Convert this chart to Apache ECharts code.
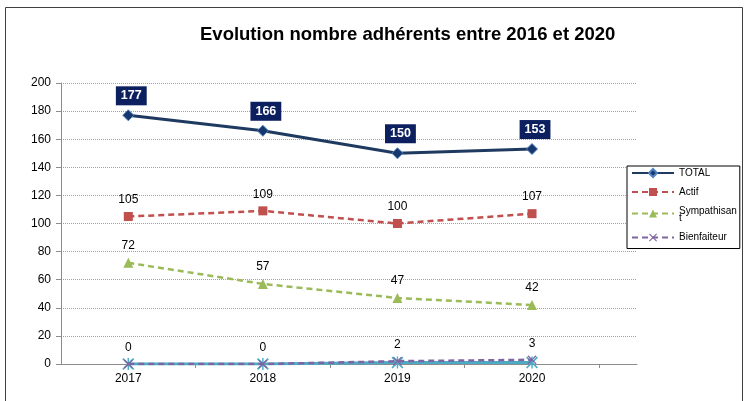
<!DOCTYPE html>
<html>
<head>
<meta charset="utf-8">
<script src="https://cdn.jsdelivr.net/npm/echarts@6/dist/echarts.min.js"></script>
<style>
  html, body { margin: 0; padding: 0; background: #fff; }
  #chart { width: 745px; height: 401px; }
</style>
</head>
<body>
<div id="chart"></div>
<script>
const years = ['2017', '2018', '2019', '2020'];
const total = [177, 166, 150, 153];
const actif = [105, 109, 100, 107];
const sympathisant = [72, 57, 47, 42];
const bienfaiteur = [0, 0, 2, 3];
const autre = [0, 0, 1, 1];
const yTicks = [0, 20, 40, 60, 80, 100, 120, 140, 160, 180, 200];

// x positions: band centres, the axis runs a bit past the last band like the original
const pts = (vals) => vals.map((v, i) => [i + 0.5, v]);

const crossPath = 'path://M0,1L1,0L5,4L9,0L10,1L6,5L10,9L9,10L5,6L1,10L0,9L4,5Z';
const starPath = 'path://M0,1L1,0L5,4L9,0L10,1L6,5L10,9L9,10L5,6L1,10L0,9L4,5ZM4.4,0L5.6,0L5.6,10L4.4,10Z';

const font = 'Liberation Sans, Arial, sans-serif';
const plainLabel = {
    show: true,
    position: 'top',
    distance: 6,
    color: '#000',
    fontSize: 12,
    fontFamily: font
};

const chart = echarts.init(document.getElementById('chart'));
chart.setOption({
    animation: false,
    textStyle: { fontFamily: font },
    graphic: [{
        type: 'rect',
        shape: { x: 5.5, y: 7.5, width: 737, height: 400 },
        style: { fill: 'none', stroke: '#404040', lineWidth: 1 },
        silent: true
    }],
    title: {
        text: 'Evolution nombre adhérents entre 2016 et 2020',
        left: 195,
        top: 20,
        textStyle: { fontSize: 18.5, fontWeight: 'bold', color: '#000', fontFamily: font }
    },
    legend: {
        orient: 'vertical',
        left: 627,
        top: 166,
        data: ['TOTAL', 'Actif', 'Sympathisant', 'Bienfaiteur'],
        itemWidth: 42,
        itemHeight: 10,
        itemGap: 9,
        padding: [2, 3, 6, 4],
        borderColor: '#000',
        borderWidth: 1,
        backgroundColor: '#fff',
        textStyle: {
            fontSize: 10,
            lineHeight: 10,
            color: '#000',
            fontFamily: font,
            rich: {
                a: { fontSize: 10, lineHeight: 10, fontFamily: font },
                b: { fontSize: 10, lineHeight: 5, fontFamily: font }
            }
        },
        formatter: (name) => name === 'Sympathisant' ? '{a|Sympathisan}\n{b|t}' : name
    },
    grid: { left: 61, right: 108, top: 83, bottom: 37 },
    xAxis: {
        type: 'value',
        min: 0,
        max: 4.28,
        splitLine: { show: false },
        axisLine: { lineStyle: { color: '#8c8c8c', width: 1 } },
        axisTick: {
            show: true,
            customValues: [1, 2, 3, 4],
            length: 4,
            lineStyle: { color: '#8c8c8c' }
        },
        axisLabel: {
            customValues: years.map((y, i) => i + 0.5),
            formatter: (v) => years[Math.round(v - 0.5)],
            color: '#000',
            fontSize: 12,
            margin: 9,
            fontFamily: font
        }
    },
    yAxis: {
        type: 'value',
        min: 0,
        max: 200,
        interval: 20,
        axisLine: { show: true, lineStyle: { color: '#8c8c8c', width: 1 } },
        axisTick: { show: true, length: 5, lineStyle: { color: '#8c8c8c' } },
        axisLabel: {
            color: '#000',
            fontSize: 12,
            margin: 10,
            fontFamily: font,
            customValues: yTicks
        },
        splitLine: { lineStyle: { color: '#a0a0a0', type: [1, 1], width: 1 } }
    },
    series: [
        {
            name: 'TOTAL',
            type: 'line',
            data: pts(total),
            symbol: 'diamond',
            symbolSize: 11,
            z: 5,
            lineStyle: { color: '#1f3a60', width: 3 },
            itemStyle: { color: '#17386e', borderColor: '#4f81bd', borderWidth: 1 },
            label: {
                show: true,
                position: 'top',
                distance: 4,
                offset: [3, 0],
                color: '#fff',
                fontWeight: 'bold',
                fontSize: 12.5,
                fontFamily: font,
                backgroundColor: '#0c2060',
                padding: [3, 5, 3, 5]
            }
        },
        {
            name: 'Actif',
            type: 'line',
            data: pts(actif),
            symbol: 'rect',
            symbolSize: 9,
            lineStyle: { color: '#c0504d', width: 2.5, type: [6, 4] },
            itemStyle: { color: '#c0504d' },
            label: plainLabel
        },
        {
            name: 'Sympathisant',
            type: 'line',
            data: pts(sympathisant),
            symbol: 'triangle',
            symbolSize: 10,
            lineStyle: { color: '#9bbb59', width: 2.5, type: [6, 4] },
            itemStyle: { color: '#9bbb59' },
            label: plainLabel
        },
        {
            name: 'Bienfaiteur',
            type: 'line',
            data: pts(bienfaiteur),
            symbol: crossPath,
            symbolSize: 9,
            lineStyle: { color: '#8064a2', width: 2.5, type: [6, 4] },
            itemStyle: { color: '#8064a2' },
            label: plainLabel
        },
        {
            name: 'Autre',
            type: 'line',
            data: pts(autre),
            symbol: starPath,
            symbolSize: 12,
            z: 1,
            lineStyle: { color: '#4bacc6', width: 3 },
            itemStyle: { color: '#4bacc6' }
        }
    ]
});
</script>
</body>
</html>
